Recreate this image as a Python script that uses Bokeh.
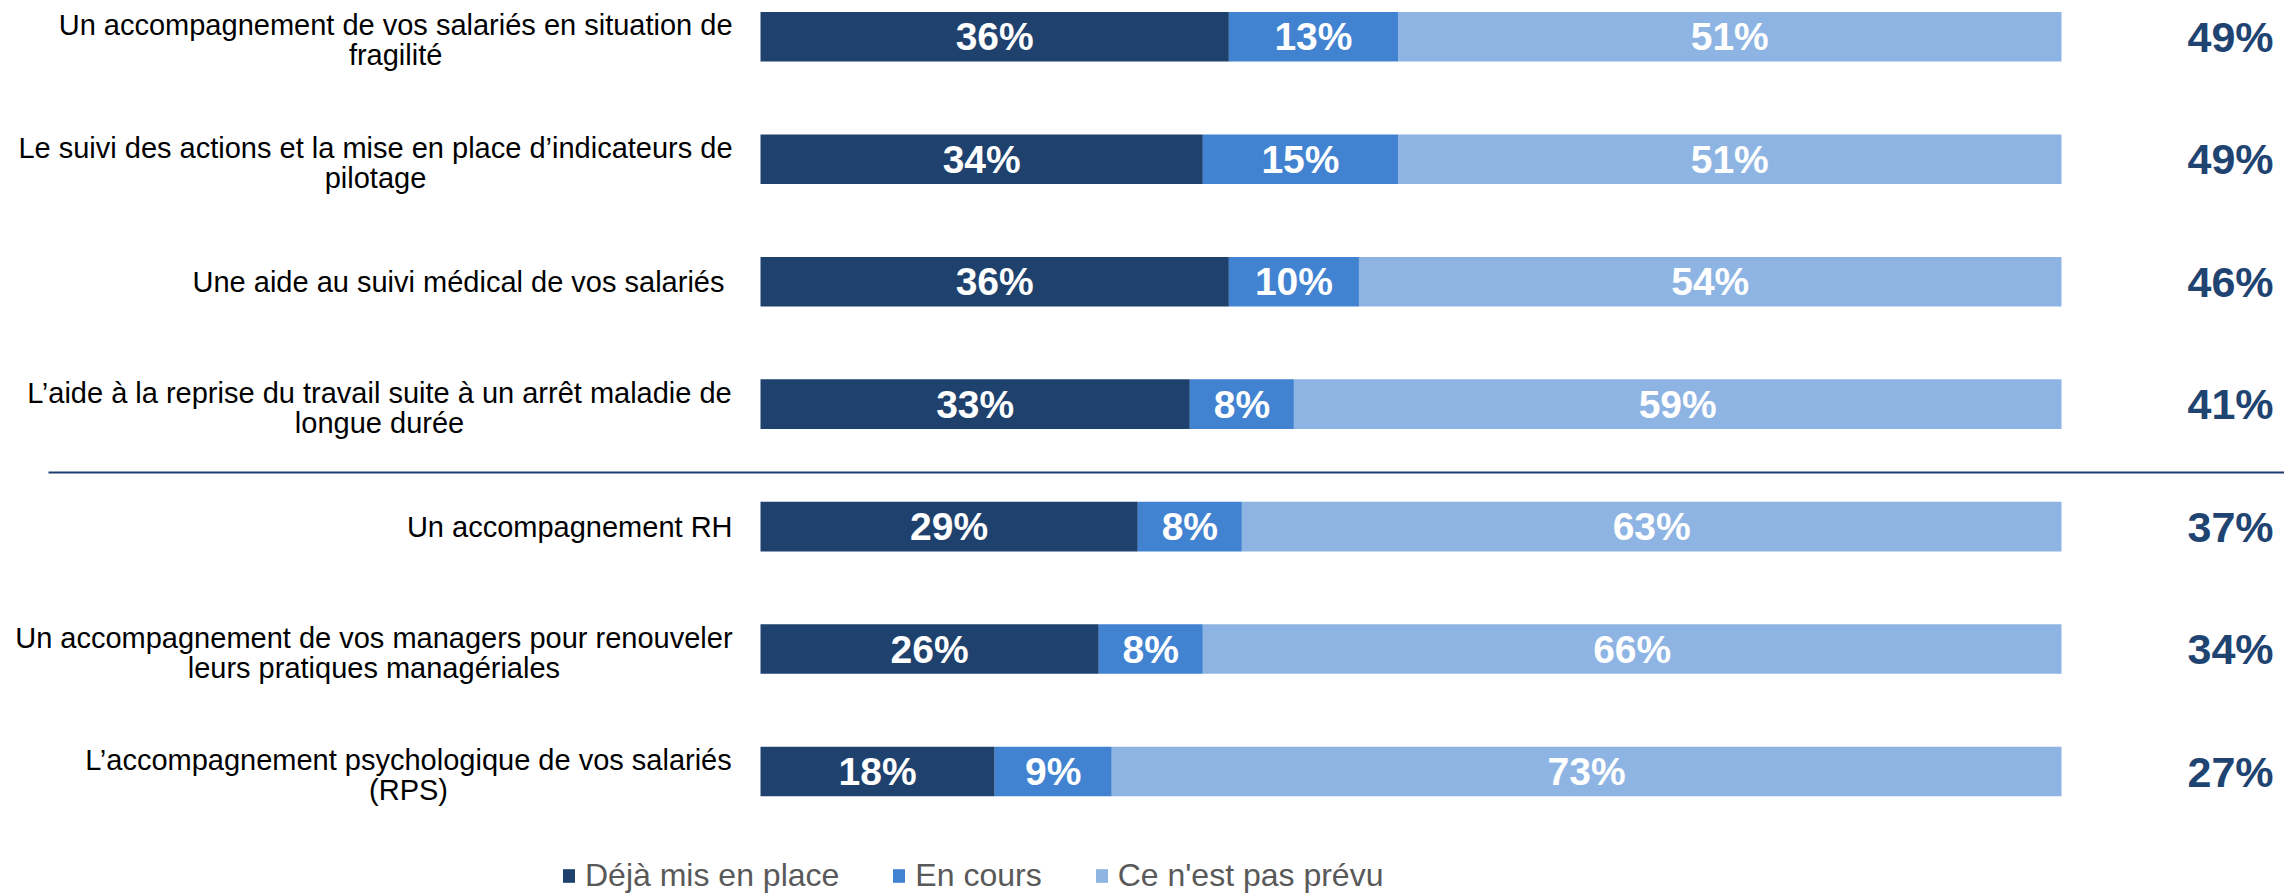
import numpy as np
from bokeh.plotting import figure
from bokeh.models import Range1d, Legend, LegendItem, ColumnDataSource
from bokeh.core.properties import value
from bokeh.embed import file_html
from bokeh.resources import INLINE

# ---------------- data ----------------
categories = [
    "Un accompagnement de vos salariés en situation de\nfragilité",
    "Le suivi des actions et la mise en place d’indicateurs de\npilotage",
    "Une aide au suivi médical de vos salariés ",
    "L’aide à la reprise du travail suite à un arrêt maladie de\nlongue durée",
    "Un accompagnement RH",
    "Un accompagnement de vos managers pour renouveler\nleurs pratiques managériales",
    "L’accompagnement psychologique de vos salariés\n(RPS)",
]
deja = [36, 34, 36, 33, 29, 26, 18]
en_cours = [13, 15, 10, 8, 8, 8, 9]
pas_prevu = [51, 51, 54, 59, 63, 66, 73]
totals = [49, 49, 46, 41, 37, 34, 27]
series_names = ["Déjà mis en place", "En cours", "Ce n'est pas prévu"]

# ---------------- styling ----------------
colors = ["#1E416E", "#4283D1", "#8DB4E2"]
total_color = "#1F4472"
FONT = "Liberation Sans"
LABEL_SIZE = 29.0
LINE_STEP = 30.0
W, H = 2284, 895
X0 = 760.0          # pixel of 0 %
PX_PER = 13.01      # pixels per percent
Y0 = 36.3           # pixel of first row centre
ROW = 122.45        # pixels per row

# Arial / Liberation Sans advance widths (per 1000 em)
AW = {' ': 278, "'": 191, '’': 222, '(': 333, ')': 333, '%': 889,
      'A': 667, 'B': 667, 'C': 722, 'D': 722, 'E': 667, 'F': 611, 'G': 778, 'H': 722,
      'I': 278, 'J': 500, 'K': 667, 'L': 556, 'M': 833, 'N': 722, 'O': 778, 'P': 667,
      'Q': 778, 'R': 722, 'S': 667, 'T': 611, 'U': 722, 'V': 667, 'W': 944,
      'a': 556, 'b': 556, 'c': 500, 'd': 556, 'e': 556, 'f': 278, 'g': 556, 'h': 556,
      'i': 222, 'j': 222, 'k': 500, 'l': 222, 'm': 833, 'n': 556, 'o': 556, 'p': 556,
      'q': 556, 'r': 333, 's': 500, 't': 278, 'u': 556, 'v': 500, 'w': 722, 'x': 500,
      'y': 500, 'z': 500, 'é': 556, 'è': 556, 'à': 556, 'ê': 556}


def line_width(s, size):
    return sum(AW.get(ch, 556) for ch in s) * size / 1000.0


n = len(categories)
ys = np.arange(n)
deja_a = np.array(deja, dtype=float)
cours_a = np.array(en_cours, dtype=float)
prevu_a = np.array(pas_prevu, dtype=float)
lefts = [np.zeros(n), deja_a, deja_a + cours_a]
rights = [deja_a, deja_a + cours_a, deja_a + cours_a + prevu_a]
vals = [deja, en_cours, pas_prevu]

p = figure(width=W, height=H,
           x_range=Range1d(-X0 / PX_PER, (W - X0) / PX_PER),
           y_range=Range1d((H - Y0) / ROW, -Y0 / ROW),
           x_axis_type=None, y_axis_type=None,
           output_backend="svg", toolbar_location=None, min_border=0)
p.grid.visible = False
p.outline_line_color = None

renderers = []
for k in range(3):
    src = ColumnDataSource(dict(y=ys, left=lefts[k], right=rights[k],
                                mid=(lefts[k] + rights[k]) / 2,
                                lab=[f"{v}%" for v in vals[k]]))
    r = p.hbar(y="y", left="left", right="right", height=0.405, source=src,
               fill_color=colors[k], line_color=None)
    renderers.append(r)
    p.text(x="mid", y="y", text="lab", source=src, text_color="white",
           text_font=value(FONT), text_font_style="bold", text_font_size="39px",
           text_align="center", text_baseline="middle")

# category labels: block right-aligned next to the bars, lines centred within it
gap = 28.0
lx, ly, ltxt, loff, lyoff = [], [], [], [], []
for i, c in enumerate(categories):
    lines = c.split("\n")
    block = max(line_width(l, LABEL_SIZE) for l in lines)
    nl = len(lines)
    for j, l in enumerate(lines):
        lx.append(0.0)
        ly.append(i)
        ltxt.append(l)
        loff.append(-(gap + block / 2))
        lyoff.append(0.0 if nl == 1 else (j - (nl - 1) / 2) * LINE_STEP + 3.5)
cat_src = ColumnDataSource(dict(x=lx, y=ly, text=ltxt, off=loff, yoff=lyoff))
p.text(x="x", y="y", text="text", x_offset="off", y_offset="yoff", source=cat_src,
       text_color="black", text_font=value(FONT), text_font_size=f"{LABEL_SIZE}px",
       text_align="center", text_baseline="middle")

# totals on the right
tot_src = ColumnDataSource(dict(x=np.full(n, 100.0), y=ys,
                                text=[f"{t}%" for t in totals]))
p.text(x="x", y="y", text="text", x_offset=169, source=tot_src,
       text_color=total_color, text_font=value(FONT), text_font_style="bold",
       text_font_size="43px", text_align="center", text_baseline="middle")

# separator line
p.segment(x0=[(48 - X0) / PX_PER], x1=[(W - X0) / PX_PER], y0=[3.558], y1=[3.558],
          line_color="#1F3A6E", line_width=2)

legend = Legend(items=[LegendItem(label=series_names[k], renderers=[renderers[k]])
                       for k in range(3)],
                location=(561, 1), orientation="horizontal",
                glyph_width=15, glyph_height=17, label_standoff=9, spacing=52,
                label_text_font=FONT, label_text_font_size="32px",
                label_text_color="#595959", padding=0, margin=0,
                border_line_color=None, background_fill_alpha=0)
p.add_layout(legend, "center")

open("out.html", "w").write(file_html(p, INLINE))
